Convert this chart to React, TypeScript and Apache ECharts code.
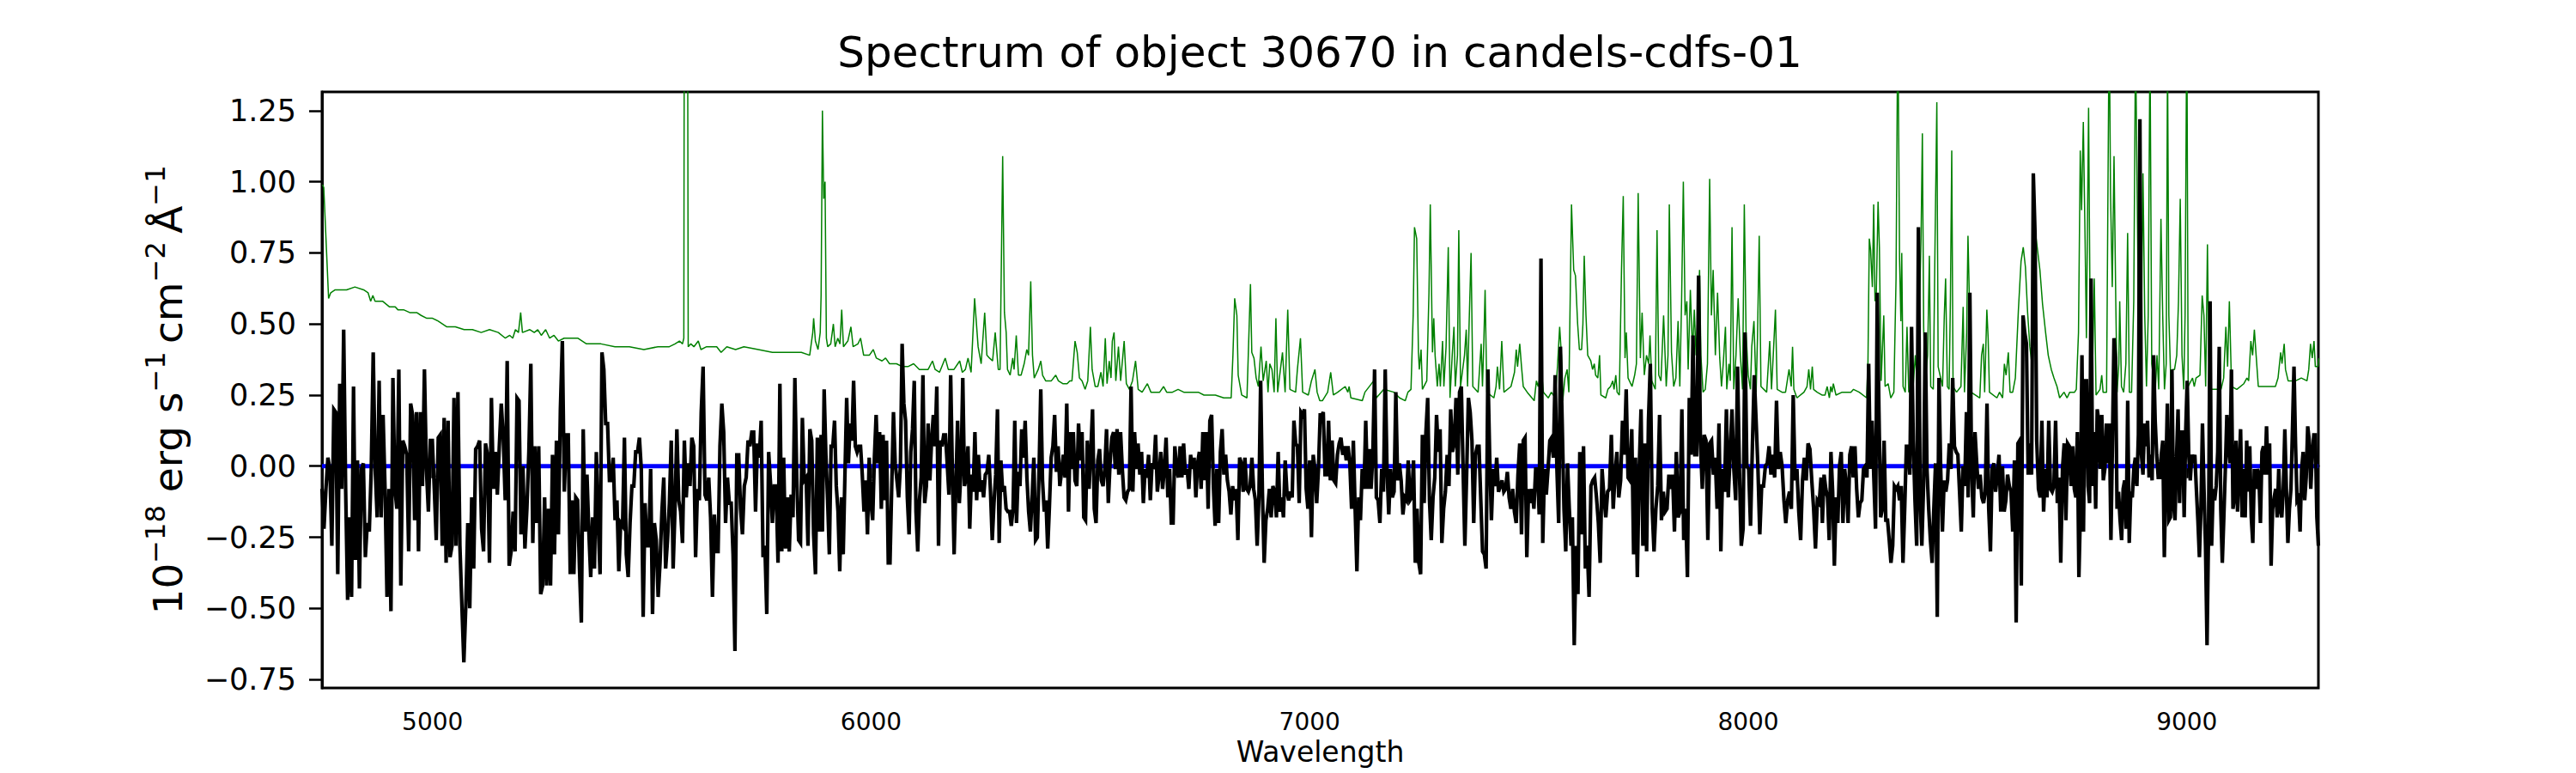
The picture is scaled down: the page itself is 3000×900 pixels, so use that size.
import React, { useEffect, useRef } from "react";
import * as echarts from "echarts";

const TITLE = "Spectrum of object 30670 in candels-cdfs-01";
const X_NAME = "Wavelength";
const Y_NAME = "{m|10}{s|−18}{m| erg s}{s|−1}{m|\u2009cm}{s|−2}{m|\u2009Å}{s|−1}";
const X_MIN = 4748;
const X_MAX = 9300;
const Y_MIN = -0.78;
const Y_MAX = 1.316;
const X_TICKS = [5000, 6000, 7000, 8000, 9000];
const Y_TICKS = [-0.75, -0.5, -0.25, 0, 0.25, 0.5, 0.75, 1.0, 1.25];

// wavelength span covered by each flux segment (Å)
const fluxRanges = [
  [4748, 5314], [5318, 5886], [5889, 6458], [6461, 7028],
  [7031, 7596], [7599, 8166], [8169, 8736], [8740, 9300],
];

const flux1 = [-0.08,-0.22,-0.08,0.03,-0.01,-0.28,0.20,0.19,-0.38,0.29,-0.08,0.48,-0.08,-0.47,-0.18,-0.46,0.28,-0.33,0.02,-0.43,-0.01,0.01,-0.32,-0.20,-0.23,-0.01,0.40,-0.01,-0.18,0.30,-0.18,0.18,-0.08,-0.46,-0.08,-0.51,0.31,-0.08,-0.15,0.34,-0.42,0.09,0.07,0.04,-0.30,0.22,0.18,-0.19,0.19,-0.30,0.19,-0.07,0.34,-0.01,-0.16,0.09,0.09,-0.08,-0.26,0.10,0.11,-0.28,0.17,-0.34,0.16,-0.32,-0.28,0.24,-0.28,0.26,-0.28,-0.49,-0.69,-0.49,-0.20,-0.50,-0.11,-0.36,0.06,0.07,0.09,-0.22,-0.30,0.08,0.04,-0.34,0.24,-0.08,0.05,-0.10,0.07,0.22,0.10,-0.12,0.37,-0.35,-0.30,-0.16,-0.30,0.24,0.23,-0.24,0.00,-0.29,-0.15,0.05,0.36,-0.27,0.07,-0.20,0.07,-0.45,-0.42,-0.11,-0.42,-0.15,-0.42,0.04,-0.31,0.09,-0.24,0.20,0.44,-0.09,0.11,0.11,-0.38];
const flux2 = [-0.12,-0.38,-0.11,-0.12,-0.36,-0.55,0.13,-0.23,-0.03,-0.23,-0.39,-0.18,-0.36,0.05,-0.20,-0.38,0.40,0.34,0.15,0.15,-0.05,-0.05,0.03,-0.19,-0.12,-0.37,-0.20,-0.21,0.10,-0.31,-0.39,-0.20,-0.07,-0.07,0.05,0.05,0.10,-0.01,-0.53,-0.13,-0.28,-0.28,-0.01,-0.52,-0.20,-0.26,-0.46,-0.34,-0.16,-0.04,-0.36,-0.26,-0.13,0.09,-0.36,-0.15,0.13,-0.12,-0.16,-0.27,0.09,-0.11,0.01,-0.07,0.10,0.07,-0.32,-0.08,-0.12,0.19,0.35,-0.10,-0.12,-0.04,-0.18,-0.46,-0.17,-0.30,-0.30,0.07,0.22,0.12,-0.20,-0.04,-0.13,-0.13,-0.31,-0.65,0.04,0.04,-0.15,-0.24,-0.07,-0.04,0.09,0.07,0.12,0.12,-0.16,0.08,0.03,0.16,-0.32,-0.28,-0.52,0.05,-0.06,-0.20,-0.07,-0.07,-0.34,0.29,-0.30,0.03,-0.29,-0.11,-0.30,-0.10,-0.18,0.31,-0.04,-0.26,-0.27,0.17,-0.05,-0.04,-0.28,0.13,0.09,-0.24,-0.38,0.10,-0.23,0.11];
const flux3 = [-0.23,0.27,0.04,-0.12,-0.31,0.07,0.07,0.16,-0.07,-0.16,-0.37,-0.11,-0.31,-0.03,0.24,0.01,0.15,0.09,0.30,0.07,0.05,0.07,0.07,-0.03,-0.16,-0.05,-0.24,0.03,-0.13,-0.19,0.03,0.18,0.01,0.12,-0.15,0.11,-0.12,0.09,-0.34,-0.34,-0.07,0.19,0.01,-0.05,-0.11,0.00,0.43,0.22,0.16,-0.11,-0.24,0.05,0.13,0.30,-0.16,-0.30,-0.12,-0.04,0.32,-0.13,-0.07,0.15,-0.05,0.09,0.18,0.07,0.28,-0.28,0.09,0.07,0.11,0.11,0.01,-0.10,0.32,-0.02,-0.31,-0.07,0.16,-0.13,-0.01,0.31,-0.07,-0.04,0.07,-0.22,-0.03,-0.09,0.12,-0.12,0.04,-0.09,-0.05,-0.11,-0.03,-0.02,0.04,-0.09,-0.26,-0.13,-0.03,0.20,-0.27,0.02,-0.09,-0.07,-0.15,-0.16,-0.16,-0.21,-0.15,0.16,-0.20,-0.02,-0.07,0.13,0.03,0.16,-0.04,-0.16,-0.23,-0.11,0.03,-0.26,-0.25,-0.02,0.27,-0.05,-0.16,-0.12,-0.29,-0.14,0.03,0.07,0.18,-0.02,0.07,-0.07,-0.02,0.04,-0.04,0.22,-0.16,0.12,-0.01];
const flux4 = [0.12,-0.05,-0.07,0.15,0.02,0.12,-0.18,-0.19,0.09,-0.08,0.05,0.20,-0.15,-0.20,0.02,0.06,-0.05,-0.07,-0.01,0.13,-0.13,0.01,0.10,0.12,-0.01,0.13,-0.03,0.12,-0.01,-0.11,-0.12,-0.09,-0.08,0.28,-0.09,0.12,-0.01,0.08,-0.03,0.05,-0.13,-0.01,-0.04,0.04,-0.12,0.01,-0.01,0.11,-0.09,-0.03,0.05,-0.08,-0.01,0.10,-0.11,-0.01,-0.20,-0.20,0.07,-0.01,-0.04,0.07,-0.04,0.08,-0.03,-0.01,-0.08,0.04,-0.01,0.03,-0.11,0.01,0.05,-0.08,0.12,-0.05,0.12,-0.15,0.16,0.18,-0.07,-0.21,-0.01,-0.20,0.05,0.13,-0.03,0.04,-0.05,-0.09,-0.17,-0.07,-0.12,-0.08,-0.26,0.03,0.01,-0.09,0.03,-0.08,-0.09,-0.07,0.03,-0.08,-0.12,-0.28,-0.11,0.30,-0.09,-0.34,-0.19,-0.15,-0.08,-0.18,-0.07,-0.09,-0.18,0.05,-0.16,-0.11,-0.18,0.02,-0.09,-0.12,-0.09,-0.11,0.16,0.08,0.07,-0.13,0.19,0.18,0.20,-0.08,-0.15,0.02,-0.25,0.04,-0.01,-0.13,-0.01,0.18,0.18];
const flux5 = [0.19,-0.03,-0.03,0.16,-0.05,0.09,-0.05,-0.06,0.04,0.08,0.10,0.04,0.07,0.02,0.07,0.01,-0.15,0.09,-0.15,-0.37,-0.11,-0.19,-0.01,-0.08,0.16,-0.08,0.06,-0.08,0.04,0.34,-0.11,-0.12,-0.20,-0.01,-0.09,0.34,-0.01,-0.17,-0.01,-0.11,-0.09,0.26,-0.05,0.01,-0.05,-0.17,-0.11,-0.12,0.02,-0.12,-0.11,0.02,-0.34,-0.15,-0.34,-0.38,0.11,-0.13,0.12,0.24,-0.12,-0.26,-0.11,-0.04,0.18,0.05,0.13,-0.27,-0.15,-0.09,0.04,-0.07,0.20,0.05,0.08,0.24,-0.03,0.26,0.28,-0.01,-0.28,-0.03,0.24,0.19,0.09,-0.20,0.04,0.07,0.07,-0.12,-0.30,-0.31,-0.36,0.34,0.04,-0.19,-0.01,-0.07,0.03,-0.09,-0.07,-0.05,-0.09,-0.08,-0.02,-0.11,-0.15,-0.08,-0.16,-0.20,-0.03,0.08,-0.24,0.09,0.10,-0.32,-0.08,-0.13,-0.08,-0.15,-0.01,-0.01,-0.17,0.73,-0.27,-0.01,-0.10,-0.01,0.09,0.10,0.03,0.32,-0.01,-0.20,0.42,0.15,-0.15,-0.30,0.01,-0.15,-0.28];
const flux6 = [-0.18,-0.63,-0.28,-0.45,0.05,-0.24,0.07,-0.36,-0.28,-0.46,-0.07,-0.05,-0.04,-0.11,-0.20,-0.34,-0.01,-0.11,-0.18,-0.09,-0.08,0.11,-0.15,-0.03,0.05,-0.11,-0.05,0.16,0.04,0.27,-0.04,-0.05,0.13,-0.31,0.03,-0.39,-0.01,0.20,-0.28,0.08,-0.30,0.16,0.36,-0.15,-0.30,-0.15,-0.07,0.18,-0.19,-0.09,-0.16,-0.15,-0.03,-0.08,-0.03,-0.23,0.05,-0.18,-0.16,0.20,-0.26,-0.15,-0.39,0.24,0.04,0.46,0.04,0.04,0.67,0.09,-0.08,0.11,0.09,-0.26,0.08,0.09,-0.03,0.03,-0.15,0.15,-0.30,-0.01,-0.09,0.20,-0.11,0.04,0.20,-0.01,-0.12,0.35,-0.01,-0.28,-0.22,0.47,0.00,-0.01,-0.21,0.07,0.32,0.16,-0.01,-0.24,-0.07,-0.07,0.00,0.01,0.07,-0.03,0.04,-0.04,0.23,-0.01,0.05,0.00,-0.12,-0.20,-0.12,-0.09,-0.15,0.25,-0.05,-0.01,-0.16,-0.26,-0.05,0.03,-0.05,0.08,0.06,-0.05,-0.15,-0.29,-0.12,-0.13,-0.04];
const flux7 = [-0.20,-0.03,-0.08,-0.11,-0.26,0.05,-0.09,-0.35,-0.11,-0.20,0.00,0.05,-0.20,-0.01,-0.07,-0.20,0.04,0.07,-0.04,0.07,-0.08,-0.18,-0.13,-0.12,-0.01,0.00,-0.04,0.36,-0.01,0.16,-0.04,-0.22,0.61,0.19,-0.18,-0.15,0.09,-0.19,-0.19,-0.26,-0.34,-0.28,-0.07,-0.08,-0.07,-0.12,-0.07,-0.34,-0.15,0.07,0.07,-0.03,0.49,0.09,-0.12,-0.28,0.84,-0.12,-0.28,-0.07,0.47,-0.01,-0.15,-0.26,-0.34,-0.15,0.01,-0.53,0.31,-0.01,-0.23,-0.05,-0.09,-0.05,0.08,-0.01,0.31,0.07,0.05,0.04,-0.09,-0.23,0.00,-0.07,0.19,-0.11,0.61,-0.01,-0.18,0.12,0.01,-0.08,-0.03,-0.11,-0.13,-0.09,0.22,-0.15,-0.30,-0.01,0.01,-0.09,-0.03,0.04,-0.16,0.00,-0.16,-0.12,-0.03,-0.07,-0.09,-0.23,0.02,-0.55,0.08,0.09,-0.42,0.53,0.47,0.43,-0.03,0.08,-0.03,1.03,0.82,0.09,-0.08,-0.11,0.16,-0.16,-0.01,-0.11,0.16,-0.08,-0.09,-0.07,0.16,-0.13,-0.04,-0.34,-0.01,0.08,-0.19,0.08,0.07,-0.07];
const flux8 = [0.07,-0.08,-0.11,0.12,-0.39,-0.15,0.39,-0.23,0.30,0.30,-0.07,-0.13,0.66,-0.07,0.12,-0.15,0.20,0.16,-0.01,0.18,-0.05,-0.01,0.15,0.01,0.15,-0.26,0.09,0.45,0.38,-0.15,-0.09,-0.19,-0.26,-0.08,-0.05,-0.22,0.23,-0.27,-0.09,-0.11,-0.01,0.03,-0.07,0.11,1.22,0.04,-0.03,0.15,0.07,0.16,-0.04,0.04,-0.05,0.39,0.16,0.04,-0.04,-0.04,0.04,0.09,-0.32,-0.03,0.22,-0.19,-0.18,0.34,-0.13,-0.19,0.03,0.20,-0.13,0.12,0.12,-0.18,0.12,0.30,0.04,-0.05,0.04,0.01,0.04,-0.08,-0.19,-0.32,-0.15,0.15,-0.08,-0.28,-0.63,-0.22,0.58,-0.28,-0.08,-0.12,-0.07,0.05,0.42,-0.15,-0.34,-0.18,-0.01,0.18,0.07,0.01,0.34,-0.15,-0.11,0.09,-0.16,-0.01,0.13,-0.18,-0.01,-0.18,0.09,-0.09,0.07,-0.18,-0.27,-0.01,-0.08,-0.01,-0.03,-0.20,0.05,0.07,-0.03,0.14,-0.03,0.08,-0.35,-0.15,-0.11,-0.08,-0.18,-0.01,-0.15,-0.18,-0.08,0.13,-0.08,-0.27,-0.15,-0.08,0.13,0.35,0.08,-0.12,-0.11,-0.23,-0.01,0.05,-0.12,-0.04,0.14,0.09,-0.08,0.04,0.11,0.11,-0.18,-0.28];

// sky spectrum: [wavelength (Å), flux]
const sky = [
[4749,0.99],[4752,0.98],[4763,0.59],[4768,0.61],[4778,0.62],[4804,0.62],[4823,0.63],[4843,0.62],[4853,0.61],[4859,0.58],[4864,0.60],[4869,0.58],[4886,0.58],[4902,0.56],[4915,0.56],[4921,0.55],[4934,0.55],[4948,0.54],[4964,0.54],[4974,0.53],[4987,0.52],[5000,0.52],[5013,0.51],[5032,0.49],[5052,0.49],[5072,0.48],[5091,0.48],[5111,0.47],[5130,0.48],[5150,0.47],[5166,0.45],[5176,0.46],[5183,0.45],[5189,0.48],[5196,0.47],[5201,0.54],[5205,0.47],[5222,0.48],[5232,0.47],[5240,0.48],[5248,0.46],[5258,0.48],[5267,0.45],[5277,0.46],[5287,0.44],[5300,0.45],[5318,0.45],
[5331,0.45],[5351,0.43],[5384,0.43],[5416,0.42],[5449,0.42],[5482,0.41],[5514,0.42],[5540,0.42],[5553,0.43],[5563,0.44],[5570,0.43],[5573,0.45],[5576,4.0],[5579,4.0],[5583,0.42],[5589,0.43],[5596,0.42],[5606,0.44],[5612,0.41],[5625,0.42],[5638,0.42],[5648,0.42],[5658,0.40],[5671,0.42],[5691,0.41],[5710,0.42],[5743,0.41],[5775,0.40],[5808,0.40],[5841,0.40],[5860,0.39],[5867,0.47],[5869,0.52],[5873,0.44],[5879,0.41],[5884,0.47],[5886,0.60],[5889,1.25],[5892,0.94],[5895,1.0],[5898,0.45],
[5901,0.42],[5908,0.43],[5914,0.50],[5918,0.42],[5924,0.45],[5929,0.43],[5933,0.55],[5937,0.42],[5947,0.44],[5954,0.49],[5959,0.42],[5970,0.43],[5976,0.45],[5983,0.39],[5996,0.39],[6005,0.41],[6012,0.38],[6025,0.37],[6033,0.38],[6042,0.36],[6058,0.36],[6071,0.35],[6084,0.35],[6097,0.36],[6110,0.34],[6130,0.34],[6140,0.37],[6146,0.34],[6156,0.33],[6169,0.38],[6176,0.34],[6189,0.34],[6202,0.37],[6208,0.33],[6215,0.34],[6221,0.38],[6228,0.33],[6236,0.59],[6244,0.42],[6251,0.36],[6259,0.54],[6264,0.39],[6270,0.38],[6277,0.37],[6283,0.47],[6290,0.34],[6294,0.34],[6300,1.09],[6304,0.54],[6308,0.47],[6311,0.34],[6317,0.32],[6323,0.38],[6326,0.34],[6331,0.46],[6336,0.32],[6342,0.32],[6349,0.36],[6355,0.41],[6359,0.39],[6364,0.65],[6368,0.39],[6372,0.31],[6381,0.34],[6387,0.37],[6391,0.32],[6398,0.30],[6411,0.30],[6421,0.32],[6427,0.30],[6437,0.29],[6447,0.29],[6453,0.30],[6458,0.30],
[6465,0.44],[6470,0.40],[6475,0.31],[6481,0.30],[6488,0.27],[6494,0.30],[6500,0.49],[6504,0.34],[6511,0.28],[6517,0.28],[6524,0.33],[6529,0.28],[6534,0.45],[6538,0.29],[6543,0.37],[6547,0.31],[6550,0.44],[6554,0.47],[6558,0.30],[6561,0.36],[6564,0.42],[6569,0.30],[6577,0.44],[6582,0.29],[6589,0.27],[6596,0.30],[6603,0.37],[6609,0.27],[6618,0.26],[6630,0.29],[6638,0.26],[6648,0.26],[6658,0.26],[6667,0.28],[6674,0.26],[6687,0.26],[6700,0.27],[6713,0.26],[6733,0.26],[6746,0.26],[6759,0.25],[6785,0.25],[6804,0.24],[6821,0.24],[6825,0.39],[6829,0.59],[6834,0.53],[6837,0.32],[6845,0.25],[6857,0.24],[6860,0.39],[6865,0.64],[6868,0.40],[6873,0.38],[6878,0.31],[6883,0.28],[6889,0.42],[6894,0.30],[6901,0.37],[6905,0.26],[6909,0.36],[6914,0.34],[6919,0.26],[6923,0.52],[6927,0.26],[6938,0.40],[6944,0.26],[6950,0.55],[6955,0.27],[6968,0.26],[6972,0.34],[6979,0.45],[6984,0.26],[6997,0.25],[7004,0.30],[7012,0.34],[7017,0.26],[7023,0.23],[7029,0.23],
[7041,0.26],[7048,0.33],[7054,0.25],[7064,0.26],[7081,0.28],[7087,0.26],[7090,0.28],[7094,0.24],[7120,0.23],[7126,0.26],[7146,0.30],[7152,0.24],[7169,0.27],[7192,0.26],[7205,0.24],[7218,0.23],[7224,0.26],[7231,0.27],[7236,0.53],[7239,0.84],[7244,0.80],[7248,0.40],[7250,0.34],[7254,0.41],[7257,0.27],[7267,0.30],[7272,0.61],[7275,0.92],[7280,0.40],[7283,0.52],[7286,0.39],[7291,0.28],[7295,0.36],[7298,0.28],[7303,0.44],[7306,0.28],[7311,0.42],[7316,0.77],[7320,0.24],[7325,0.39],[7329,0.49],[7332,0.28],[7337,0.39],[7340,0.83],[7344,0.28],[7353,0.39],[7357,0.48],[7360,0.28],[7363,0.47],[7368,0.75],[7372,0.28],[7384,0.26],[7391,0.43],[7394,0.28],[7397,0.43],[7400,0.62],[7404,0.26],[7420,0.24],[7425,0.28],[7428,0.35],[7433,0.27],[7438,0.44],[7443,0.26],[7459,0.28],[7467,0.33],[7471,0.41],[7474,0.35],[7479,0.43],[7483,0.35],[7487,0.28],[7496,0.26],[7512,0.23],[7517,0.30],[7521,0.28],[7528,0.34],[7533,0.26],[7544,0.24],[7551,0.26],[7560,0.24],[7565,0.35],[7570,0.49],[7574,0.39],[7577,0.23],[7582,0.31],[7587,0.34],[7591,0.26],[7597,0.92],
[7602,0.69],[7606,0.67],[7611,0.50],[7615,0.41],[7620,0.41],[7623,0.50],[7626,0.74],[7630,0.53],[7634,0.39],[7641,0.37],[7645,0.34],[7649,0.36],[7652,0.32],[7657,0.31],[7661,0.39],[7664,0.25],[7675,0.24],[7680,0.27],[7686,0.28],[7691,0.30],[7694,0.27],[7698,0.32],[7701,0.26],[7706,0.25],[7711,0.69],[7715,0.95],[7719,0.38],[7722,0.47],[7726,0.31],[7735,0.28],[7741,0.32],[7745,0.36],[7749,0.96],[7754,0.38],[7758,0.54],[7763,0.32],[7768,0.39],[7773,0.36],[7776,0.46],[7780,0.30],[7788,0.27],[7792,0.83],[7796,0.32],[7801,0.30],[7807,0.53],[7813,0.28],[7817,0.39],[7820,0.92],[7825,0.40],[7830,0.28],[7835,0.31],[7840,0.51],[7844,0.28],[7848,0.58],[7852,1.00],[7856,0.53],[7860,0.58],[7863,0.34],[7868,0.62],[7873,0.40],[7877,0.55],[7881,0.39],[7884,0.50],[7889,0.69],[7892,0.39],[7897,0.26],[7902,0.27],[7907,0.36],[7912,1.01],[7916,0.53],[7920,0.69],[7925,0.39],[7930,0.61],[7935,0.38],[7939,0.28],[7943,0.36],[7948,0.49],[7951,0.27],[7956,0.36],[7959,0.30],[7963,0.84],[7967,0.27],[7972,0.39],[7977,0.59],[7982,0.39],[7987,0.27],[7991,0.92],[7995,0.47],[8000,0.32],[8005,0.27],[8008,0.42],[8013,0.51],[8018,0.26],[8021,0.45],[8025,0.81],[8029,0.28],[8042,0.26],[8049,0.44],[8053,0.27],[8057,0.39],[8062,0.55],[8066,0.27],[8077,0.26],[8085,0.26],[8089,0.30],[8093,0.34],[8098,0.28],[8101,0.42],[8104,0.27],[8111,0.24],[8127,0.26],[8134,0.28],[8138,0.34],[8142,0.27],[8146,0.35],[8149,0.27],[8157,0.26],[8168,0.25],
[8175,0.25],[8180,0.28],[8185,0.24],[8188,0.28],[8191,0.26],[8194,0.29],[8200,0.25],[8214,0.26],[8227,0.26],[8234,0.26],[8240,0.27],[8253,0.26],[8270,0.24],[8273,0.37],[8276,0.80],[8279,0.76],[8283,0.63],[8286,0.92],[8289,0.58],[8292,0.61],[8296,0.93],[8299,0.77],[8303,0.30],[8309,0.53],[8312,0.28],[8319,0.29],[8325,0.24],[8332,0.26],[8337,0.66],[8341,1.6],[8345,0.73],[8348,0.51],[8350,0.75],[8353,0.28],[8358,0.26],[8362,0.49],[8366,0.26],[8376,0.28],[8381,0.39],[8386,0.28],[8390,0.53],[8394,0.80],[8397,1.17],[8400,0.49],[8403,0.28],[8409,0.39],[8413,0.74],[8416,0.28],[8422,0.27],[8426,0.80],[8430,1.28],[8433,0.35],[8443,0.28],[8447,0.53],[8450,0.66],[8454,0.28],[8458,0.27],[8461,0.59],[8464,1.11],[8467,0.28],[8475,0.26],[8485,0.28],[8490,0.56],[8493,0.26],[8498,0.47],[8501,0.81],[8505,0.53],[8508,0.26],[8528,0.24],[8532,0.39],[8536,0.43],[8539,0.26],[8544,0.55],[8547,0.45],[8550,0.26],[8567,0.24],[8573,0.26],[8580,0.24],[8584,0.36],[8588,0.32],[8593,0.40],[8597,0.26],[8603,0.26],[8609,0.31],[8616,0.55],[8622,0.72],[8627,0.77],[8632,0.70],[8637,0.54],[8642,0.42],[8648,0.34],[8655,0.82],[8665,0.69],[8671,0.57],[8678,0.47],[8684,0.39],[8691,0.34],[8697,0.31],[8704,0.28],[8710,0.24],[8720,0.26],[8727,0.24],[8733,0.26],[8738,0.26],
[8744,0.26],[8748,0.27],[8753,0.47],[8757,1.11],[8760,0.90],[8764,1.21],[8768,0.80],[8771,0.45],[8776,1.26],[8779,0.62],[8784,0.26],[8789,0.66],[8793,0.25],[8802,0.27],[8806,0.32],[8809,0.26],[8817,0.26],[8820,0.93],[8823,1.6],[8826,0.96],[8830,0.63],[8834,1.09],[8838,0.58],[8841,0.26],[8845,0.36],[8847,0.58],[8851,0.28],[8856,0.26],[8861,0.36],[8865,0.82],[8869,0.26],[8874,0.26],[8879,0.58],[8883,1.5],[8887,0.93],[8890,0.46],[8895,0.28],[8900,1.03],[8904,0.53],[8908,0.28],[8912,0.53],[8916,1.5],[8920,0.36],[8928,0.26],[8932,0.39],[8936,0.27],[8941,0.87],[8945,0.53],[8949,0.27],[8953,0.36],[8956,1.45],[8959,0.53],[8964,0.27],[8967,0.34],[8972,0.34],[8977,0.39],[8981,0.58],[8985,0.94],[8989,0.39],[8993,0.27],[8996,0.53],[9000,1.6],[9003,0.28],[9013,0.31],[9017,0.28],[9021,0.31],[9030,0.32],[9035,0.60],[9039,0.53],[9043,0.28],[9047,0.78],[9050,0.39],[9054,0.27],[9065,0.27],[9078,0.27],[9084,0.31],[9089,0.49],[9093,0.35],[9097,0.58],[9102,0.28],[9114,0.27],[9130,0.29],[9137,0.31],[9141,0.30],[9146,0.44],[9150,0.39],[9154,0.48],[9158,0.39],[9163,0.28],[9182,0.28],[9202,0.28],[9208,0.31],[9214,0.40],[9217,0.36],[9222,0.43],[9225,0.34],[9231,0.30],[9248,0.30],[9261,0.31],[9274,0.30],[9278,0.34],[9282,0.43],[9286,0.38],[9290,0.44],[9293,0.35],[9299,0.35],[9301,0.38],
];

const zeroLevel = [[X_MIN, 0], [X_MAX, 0]];

const FONT = "DejaVu Sans";

function buildFlux() {
  const segs = [flux1, flux2, flux3, flux4, flux5, flux6, flux7, flux8];
  const out: number[][] = [];
  segs.forEach((seg, k) => {
    const [a, b] = fluxRanges[k];
    seg.forEach((v, i) => {
      out.push([a + ((b - a) * i) / (seg.length - 1), v]);
    });
  });
  return out;
}

export default function App() {
  const ref = useRef<HTMLDivElement>(null);
  useEffect(() => {
    document.body.style.margin = "0";
    const chart = echarts.init(ref.current!, null, { renderer: "svg" });
    const fmt = (v: number) => v.toFixed(2).replace("-", "\u2212");
    chart.setOption({
      animation: false,
      backgroundColor: "#ffffff",
      title: {
        text: TITLE,
        left: 1537,
        top: 36,
        textAlign: "center",
        padding: 0,
        textStyle: { fontFamily: FONT, fontSize: 50, fontWeight: "normal", color: "#000" },
      },
      grid: {
        left: 375,
        top: 107,
        width: 2325,
        height: 694,
        show: true,
        borderColor: "#000",
        borderWidth: 3,
        backgroundColor: "transparent",
        containLabel: false,
        outerBoundsMode: "none",
      },
      xAxis: {
        type: "value",
        min: X_MIN,
        max: X_MAX,
        name: X_NAME,
        nameLocation: "middle",
        nameGap: 58,
        nameMoveOverlap: false,
        nameTextStyle: { fontFamily: FONT, fontSize: 33, color: "#000" },
        axisLine: { show: true, lineStyle: { color: "#000", width: 3 } },
        axisTick: { show: true, customValues: X_TICKS, length: 14, lineStyle: { color: "#000", width: 2.5 } },
        axisLabel: {
          customValues: X_TICKS,
          fontFamily: FONT,
          fontSize: 28,
          color: "#000",
          margin: 25,
          formatter: (v: number) => String(v),
        },
        splitLine: { show: false },
      },
      yAxis: {
        type: "value",
        min: Y_MIN,
        max: Y_MAX,
        name: Y_NAME,
        nameLocation: "middle",
        nameRotate: 90,
        nameGap: 150,
        nameMoveOverlap: false,
        nameTextStyle: {
          color: "#000",
          rich: {
            m: { fontFamily: FONT, fontSize: 47, color: "#000", lineHeight: 60 },
            s: { fontFamily: FONT, fontSize: 32, color: "#000", lineHeight: 32, verticalAlign: "top" },
          },
        },
        axisLine: { show: true, lineStyle: { color: "#000", width: 3 } },
        axisTick: { show: true, customValues: Y_TICKS, length: 15, lineStyle: { color: "#000", width: 2.5 } },
        axisLabel: {
          customValues: Y_TICKS,
          fontFamily: FONT,
          fontSize: 35,
          color: "#000",
          margin: 30,
          formatter: fmt,
        },
        splitLine: { show: false },
      },
      series: [
        {
          name: "sky",
          type: "line",
          data: sky,
          symbol: "none",
          showSymbol: false,
          clip: true,
          z: 2,
          lineStyle: { color: "#008000", width: 1.5 },
        },
        {
          name: "zero",
          type: "line",
          data: zeroLevel,
          symbol: "none",
          showSymbol: false,
          z: 3,
          lineStyle: { color: "#0000ff", width: 5 },
        },
        {
          name: "flux",
          type: "line",
          data: buildFlux(),
          symbol: "none",
          showSymbol: false,
          clip: true,
          z: 4,
          lineStyle: { color: "#000000", width: 4.2, join: "miter" },
        },
      ],
    });
    return () => chart.dispose();
  }, []);
  return <div ref={ref} style={{ width: 3000, height: 900 }} />;
}
